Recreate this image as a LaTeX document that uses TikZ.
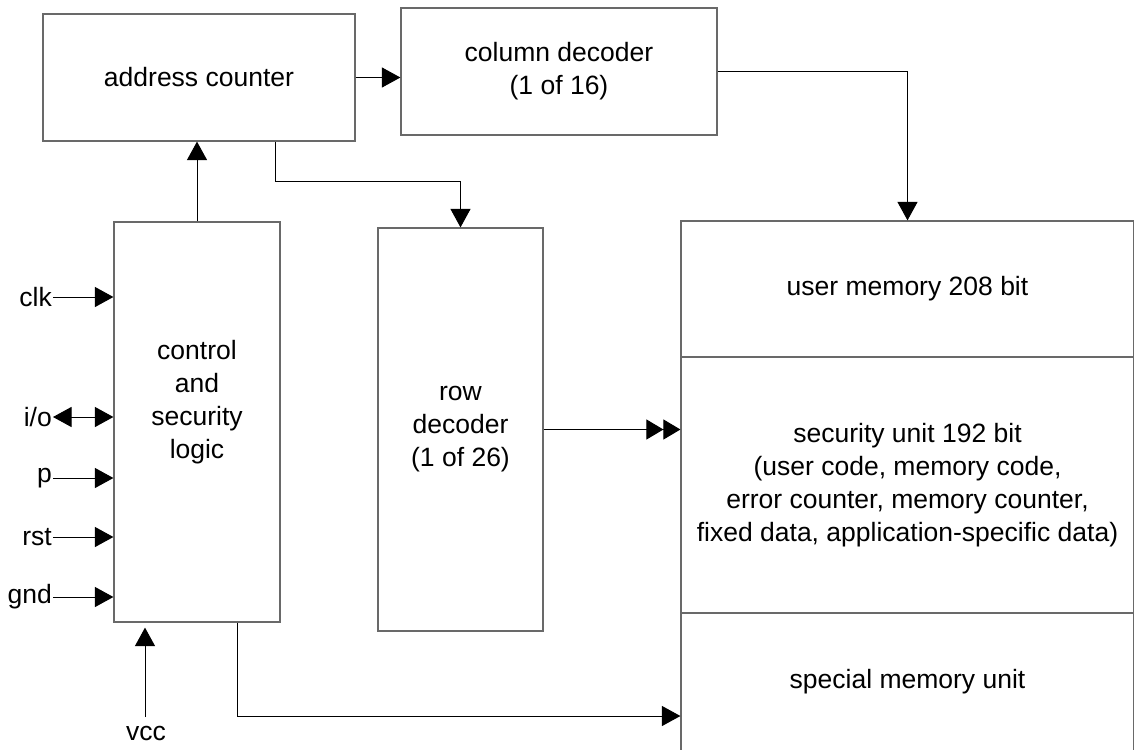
\documentclass[tikz,border=0pt]{standalone}
\usepackage{fontspec}
\setmainfont{Liberation Sans}
\usetikzlibrary{arrows.meta,calc}
\definecolor{boxgray}{RGB}{105,105,105}
\begin{document}
\begin{tikzpicture}[x=1pt,y=-1pt,
  box/.style={draw=boxgray, line width=1.2pt, inner sep=0pt, align=center, font=\fontsize{26.5}{33}\selectfont},
  txt/.style={inner sep=0pt, align=center, font=\fontsize{26.5}{33}\selectfont},
  sig/.style={inner sep=1pt, anchor=east, font=\fontsize{26.5}{33}\selectfont},
  conn/.style={draw=black, line width=1pt},
  tip/.style={},
  arr/.style={conn, -{Triangle[length=18.5pt,width=20pt]}},
  darr/.style={conn, {Triangle[length=18.5pt,width=20pt]}-{Triangle[length=18.5pt,width=20pt]}},
  ddarr/.style={conn, -{Triangle[length=17pt,width=20pt,sep=0pt]Triangle[length=17pt,width=20pt,sep=0pt]}}
]
\useasboundingbox (0,0) rectangle (1134,749);

% blocks
\node[box, minimum width=312pt, minimum height=127pt] (ac) at (199,77.5) {address counter};
\node[box, minimum width=316pt, minimum height=127pt] (cd) at (559,71.5) {column decoder\\(1 of 16)};
\node[box, minimum width=166pt, minimum height=400pt] (ctrl) at (197,422) {};
\node[txt] (ctrltxt) at (197,402) {control\\and\\security\\logic};
\node[box, minimum width=165pt, minimum height=403pt] (rd) at (460.5,429.5) {row\\decoder\\(1 of 26)};
\node[box, minimum width=453pt, minimum height=136pt] (um) at (907.5,289) {user memory 208 bit};
\node[box, minimum width=453pt, minimum height=256pt] (su) at (907.5,485) {security unit 192 bit\\(user code, memory code,\\error counter, memory counter,\\fixed data, application-specific data)};
\node[box, minimum width=453pt, minimum height=138pt] (sm) at (907.5,682) {special memory unit};

% signal labels
\node[sig] (clk) at (53,297) {clk};
\node[sig] (io) at (53,417) {i/o};
\node[sig] (p) at (53,478) {p};
\node[sig] (rst) at (53,537) {rst};
\node[sig] (gnd) at (53,597) {gnd};
\node[txt] (vcc) at (146,733) {vcc};

% helper coordinates
\coordinate (k1) at (0,181);
\coordinate (k2) at (0,716);
\coordinate (vb) at (145,717);
\coordinate (vt) at ([yshift=-5pt]ctrl.south);

% connectors
\draw[arr] (ac.east) -- (cd.west |- ac.east);
\draw[arr] (cd.east) -| (um.north);
\draw[arr] (ctrl.north) -- (ac.south -| ctrl.north);
\draw[arr] ([xshift=233pt]ac.south west) |- (rd.north |- k1) -- (rd.north);
\draw[ddarr] (rd.east) -- (su.west |- rd.east);
\draw[arr] ([xshift=124pt]ctrl.south west) |- (sm.west |- k2);
\draw[arr] (vb) -- (vt -| vb);

\draw[arr] (clk.east) -- (clk.east -| ctrl.west);
\draw[darr] (io.east) -- (io.east -| ctrl.west);
\draw[arr] (p.east) -- (p.east -| ctrl.west);
\draw[arr] (rst.east) -- (rst.east -| ctrl.west);
\draw[arr] (gnd.east) -- (gnd.east -| ctrl.west);
\end{tikzpicture}
\end{document}
